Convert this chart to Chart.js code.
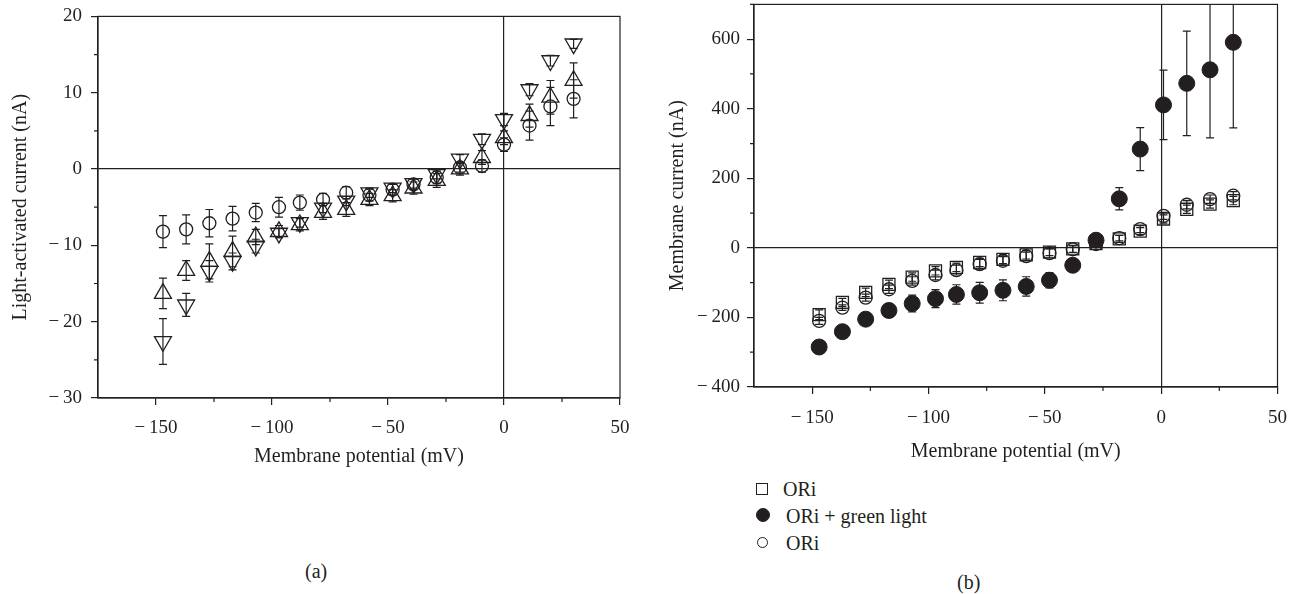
<!DOCTYPE html>
<html>
<head>
<meta charset="utf-8">
<script src="https://cdn.jsdelivr.net/npm/chart.js@4.4.0/dist/chart.umd.min.js"></script>
<style>
  html, body { margin: 0; padding: 0; background: #fff; }
  body { width: 1295px; height: 594px; position: relative; overflow: hidden;
         font-family: "Liberation Serif", serif; color: #231f20; }
  #boxA { position: absolute; left: 0; top: -4px; width: 650px; height: 479px; }
  #boxB { position: absolute; left: 660px; top: -14px; width: 640px; height: 484px; }
  .txt { position: absolute; font-size: 20px; line-height: 20px; white-space: nowrap; }
  .sym { position: absolute; box-sizing: border-box; border: 1.3px solid #231f20; }
</style>
</head>
<body>
<div id="boxA"><canvas id="chartA"></canvas></div>
<div id="boxB"><canvas id="chartB"></canvas></div>

<div class="txt" style="left:305px; top:561px;">(a)</div>
<div class="txt" style="left:957px; top:572px;">(b)</div>

<div class="sym" style="left:756px; top:483px; width:12px; height:12px;"></div>
<div class="txt" style="left:783px; top:479px;">ORi</div>
<div class="sym" style="left:755.5px; top:508px; width:14px; height:14px; border-radius:50%; background:#231f20;"></div>
<div class="txt" style="left:786px; top:506px;">ORi + green light</div>
<div class="sym" style="left:757px; top:536.5px; width:11px; height:11px; border-radius:50%;"></div>
<div class="txt" style="left:786px; top:532.5px;">ORi</div>

<script>
// ---- panel (a): light-activated current, nA ----
var voltA = [-147, -137, -127, -117, -107, -97, -88, -78, -68, -58, -48, -39, -29, -19, -9.5, 0, 11, 20, 30];
var circA = [-8.2, -7.9, -7.1, -6.5, -5.7, -5.0, -4.4, -4.0, -3.1, -3.4, -2.7, -2.0, -1.1, 0.2, 0.4, 3.2, 5.7, 8.2, 9.2];
var circAErr = [2.1, 1.9, 1.8, 1.6, 1.2, 1.3, 1.0, 0.8, 0.8, 0.8, 0.7, 0.7, 0.8, 0.6, 0.8, 0.9, 1.9, 2.5, 2.5];
var upA = [-16.3, -13.3, -12.1, -10.8, -8.9, -8.2, -7.3, -5.7, -5.3, -4.0, -3.5, -2.5, -1.5, 0.0, 1.5, 4.1, 7.0, 9.4, 11.6];
var upAErr = [2.0, 1.3, 2.3, 2.0, 1.0, 0.8, 0.8, 0.9, 0.9, 0.8, 0.8, 0.8, 0.9, 0.8, 0.9, 0.9, 1.5, 2.2, 2.3];
var downA = [-22.6, -17.8, -13.4, -12.1, -10.1, -8.4, -7.0, -5.1, -4.2, -3.1, -2.5, -1.9, -0.7, 1.3, 3.9, 6.5, 10.4, 14.2, 16.4];
var downAErr = [3.0, 1.5, 1.4, 1.1, 0.9, 0.6, 0.6, 0.6, 0.6, 0.6, 0.6, 0.6, 0.6, 0.6, 0.7, 0.8, 0.8, 0.7, 0.6];

// ---- panel (b): membrane current, nA ----
var voltB = [-147, -137, -127, -117, -107, -97, -88, -78, -68, -58, -48, -38, -28, -18, -9, 1, 11, 21, 31];
var sqB = [-192, -157, -128, -105, -84, -66, -56, -42, -33, -20, -12, -3, 12, 26, 48, 83, 111, 126, 136];
var sqBErr = [14, 12, 12, 12, 12, 12, 12, 12, 12, 12, 10, 10, 10, 10, 10, 12, 12, 12, 12];
var greenB = [-285, -241, -205, -180, -160, -146, -134, -129, -122, -111, -93, -50, 22, 141, 284, 411, 473, 512, 591];
var greenBErr = [8, 8, 12, 20, 24, 26, 28, 30, 30, 28, 22, 8, 8, 32, 62, 100, 150, 196, 246];
var circB = [-210, -172, -143, -119, -95, -78, -64, -47, -37, -24, -15, -4, 11, 28, 54, 92, 124, 140, 150];
var circBErr = [10, 8, 10, 12, 12, 14, 14, 14, 12, 12, 12, 10, 10, 8, 10, 10, 12, 12, 12];

// ticks
var xTicks = [-150, -100, -50, 0, 50];
var xMinor = [-125, -75, -25, 25];
var yTicksA = [-30, -20, -10, 0, 10, 20];
var yMinorA = [-25, -15, -5, 5, 15];
var yTicksB = [-400, -200, 0, 200, 400, 600];
var yMinorB = [-300, -100, 100, 300, 500, 700];

var ink = '#231f20';
var serif = '"Liberation Serif", serif';
var clear = 'rgba(0,0,0,0)';

function pts(xs, ys) {
  return xs.map(function(v, i) { return {x: v, y: ys[i]}; });
}

function fmt(v) {
  return v < 0 ? '\u2212\u2009' + Math.abs(v) : String(v);
}

var errorBars = {
  id: 'errorBars',
  beforeDatasetsDraw: function(chart) {
    var ctx = chart.ctx, a = chart.chartArea, x = chart.scales.x, y = chart.scales.y;
    ctx.save();
    ctx.beginPath(); ctx.rect(a.left, a.top, a.right - a.left, a.bottom - a.top); ctx.clip();
    ctx.strokeStyle = ink; ctx.lineWidth = 1.2;
    chart.data.datasets.forEach(function(ds) {
      if (!ds.err) return;
      ds.data.forEach(function(p, i) {
        var px = x.getPixelForValue(p.x);
        var y1 = y.getPixelForValue(p.y + ds.err[i]);
        var y2 = y.getPixelForValue(p.y - ds.err[i]);
        ctx.beginPath();
        ctx.moveTo(px, y1); ctx.lineTo(px, y2);
        ctx.moveTo(px - 4, y1); ctx.lineTo(px + 4, y1);
        ctx.moveTo(px - 4, y2); ctx.lineTo(px + 4, y2);
        ctx.stroke();
      });
    });
    ctx.restore();
  }
};

var frame = {
  id: 'frame',
  afterDraw: function(chart, args, opts) {
    var ctx = chart.ctx, a = chart.chartArea, x = chart.scales.x, y = chart.scales.y;
    ctx.save();
    ctx.strokeStyle = ink; ctx.lineWidth = 1.2;
    ctx.strokeRect(a.left, a.top, a.right - a.left, a.bottom - a.top);
    ctx.beginPath();
    opts.xMinor.forEach(function(v) {
      var px = x.getPixelForValue(v);
      ctx.moveTo(px, a.bottom); ctx.lineTo(px, a.bottom + 4);
    });
    opts.yMinor.forEach(function(v) {
      var py = y.getPixelForValue(v);
      ctx.moveTo(a.left - 4, py); ctx.lineTo(a.left, py);
    });
    ctx.stroke();
    ctx.restore();
  }
};

function zeroGrid(c) {
  return c.tick && c.tick.value === 0 ? ink : clear;
}

function axes(o) {
  return {
    x: {
      type: 'linear', min: -175, max: 50,
      afterBuildTicks: function(s) { s.ticks = xTicks.map(function(v) { return {value: v}; }); },
      afterFit: function(s) { s.height = o.xh; },
      grid: { color: zeroGrid, lineWidth: 1.2, tickColor: ink, tickWidth: 1.2, tickLength: 7 },
      border: { display: true, color: ink, width: 1.2 },
      ticks: { color: ink, font: { family: serif, size: 19 }, padding: o.xpad,
               maxRotation: 0, autoSkip: false, callback: fmt },
      title: { display: true, text: 'Membrane potential (mV)', color: ink,
               font: { family: serif, size: 20 }, padding: { top: 0, bottom: o.xtb } }
    },
    y: {
      type: 'linear', min: o.ymin, max: o.ymax,
      afterBuildTicks: function(s) { s.ticks = o.yticks.map(function(v) { return {value: v}; }); },
      afterFit: function(s) { s.width = o.yw; },
      grid: { color: zeroGrid, lineWidth: 1.2, tickColor: ink, tickWidth: 1.2, tickLength: 7 },
      border: { display: true, color: ink, width: 1.2 },
      ticks: { color: ink, font: { family: serif, size: 19 }, padding: o.ypad,
               autoSkip: false, callback: fmt },
      title: { display: true, text: o.ytitle, color: ink,
               font: { family: serif, size: 20 }, padding: { top: o.ytp, bottom: 0 } }
    }
  };
}

document.addEventListener("DOMContentLoaded", function() {
  new Chart(document.getElementById('chartA').getContext('2d'), {
    type: 'scatter',
    data: {
      datasets: [
        { label: 'circle', data: pts(voltA, circA), err: circAErr, pointStyle: 'circle', pointRadius: 6.5,
          pointBorderColor: ink, pointBackgroundColor: clear, pointBorderWidth: 1.3 },
        { label: 'up', data: pts(voltA, upA), err: upAErr, pointStyle: 'triangle', pointRadius: 9.8,
          pointBorderColor: ink, pointBackgroundColor: clear, pointBorderWidth: 1.3 },
        { label: 'down', data: pts(voltA, downA), err: downAErr, pointStyle: 'triangle', pointRotation: 180,
          pointRadius: 9.8, pointBorderColor: ink, pointBackgroundColor: clear, pointBorderWidth: 1.3 }
      ]
    },
    options: {
      responsive: true, maintainAspectRatio: false, animation: false,
      layout: { padding: { top: 0, right: 30, bottom: 0, left: 0 } },
      plugins: {
        legend: { display: false }, tooltip: { enabled: false },
        frame: { xMinor: xMinor, yMinor: yMinorA }
      },
      scales: axes({ xh: 77, xpad: 12, xtb: 6, ymin: -30, ymax: 20, yticks: yTicksA,
                     yw: 98, ypad: 9, ytp: 9, ytitle: 'Light-activated current (nA)' })
    },
    plugins: [errorBars, frame]
  });

  new Chart(document.getElementById('chartB').getContext('2d'), {
    type: 'scatter',
    data: {
      datasets: [
        { label: 'ORi', data: pts(voltB, sqB), err: sqBErr, pointStyle: 'rect', pointRadius: 8.5,
          pointBorderColor: ink, pointBackgroundColor: clear, pointBorderWidth: 1.3 },
        { label: 'ORi + green light', data: pts(voltB, greenB), err: greenBErr, pointStyle: 'circle', pointRadius: 8,
          pointBorderColor: ink, pointBackgroundColor: ink, pointBorderWidth: 1 },
        { label: 'ORi', data: pts(voltB, circB), err: circBErr, pointStyle: 'circle', pointRadius: 6.5,
          pointBorderColor: ink, pointBackgroundColor: clear, pointBorderWidth: 1.3 }
      ]
    },
    options: {
      responsive: true, maintainAspectRatio: false, animation: false,
      layout: { padding: { top: 0, right: 0, bottom: 0, left: 0 } },
      plugins: {
        legend: { display: false }, tooltip: { enabled: false },
        frame: { xMinor: xMinor, yMinor: yMinorB }
      },
      scales: axes({ xh: 83, xpad: 13, xtb: 6, ymin: -400, ymax: 700, yticks: yTicksB,
                     yw: 94, ypad: 7, ytp: 6, ytitle: 'Membrane current (nA)' })
    },
    plugins: [errorBars, frame]
  });
});
</script>
</body>
</html>
